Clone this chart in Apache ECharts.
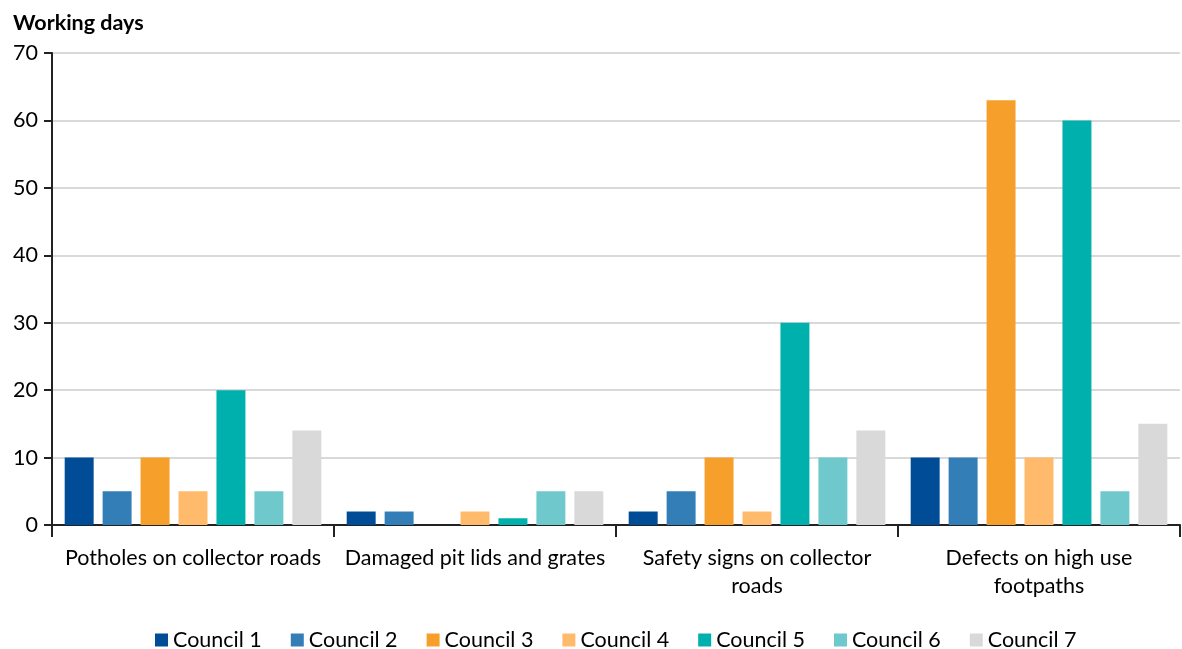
<!DOCTYPE html>
<html>
<head>
<meta charset="utf-8">
<script src="https://cdn.jsdelivr.net/npm/echarts@6/dist/echarts.min.js"></script>
<style>
  html, body { margin: 0; padding: 0; background: #fff; }
  #chart { width: 1182px; height: 649px; }
</style>
</head>
<body>
<div id="chart"></div>
<script>
// Median working days to repair, by defect type and council
const categories = [
  'Potholes on collector roads',
  'Damaged pit lids and grates',
  'Safety signs on collector\nroads',
  'Defects on high use\nfootpaths'
];
const seriesNames = ['Council 1', 'Council 2', 'Council 3', 'Council 4', 'Council 5', 'Council 6', 'Council 7'];
const council1 = [10, 2, 2, 10];
const council2 = [5, 2, 5, 10];
const council3 = [10, 0, 10, 63];
const council4 = [5, 2, 2, 10];
const council5 = [20, 1, 30, 60];
const council6 = [5, 5, 10, 5];
const council7 = [14, 5, 14, 15];
const seriesValues = [council1, council2, council3, council4, council5, council6, council7];
const colors = ['#004C97', '#347EB7', '#F79F2B', '#FFBA6B', '#00B0AC', '#6FC9CC', '#D9D9D9'];

const FONT = 'Lato, "Open Sans", "Liberation Sans", sans-serif';

const chart = echarts.init(document.getElementById('chart'), null, { renderer: 'canvas' });
chart.setOption({
  animation: false,
  textStyle: { fontFamily: FONT },
  title: {
    text: 'Working days',
    left: 8, top: 7,
    textStyle: { fontFamily: FONT, fontSize: 21.5, fontWeight: 'bold', color: '#000' }
  },
  legend: {
    top: 624,
    left: 150,
    itemWidth: 13, itemHeight: 13,
    itemGap: 29,
    icon: 'rect',
    textStyle: { fontFamily: FONT, fontSize: 21.5, color: '#000' },
    data: seriesNames
  },
  grid: { left: 52, right: 2, top: 53, bottom: 124, containLabel: false },
  xAxis: {
    type: 'category',
    data: categories,
    axisLine: { lineStyle: { color: '#222', width: 2 } },
    axisTick: { show: true, length: 12, lineStyle: { color: '#222', width: 2 } },
    axisLabel: { fontFamily: FONT, fontSize: 21.5, color: '#000', margin: 19, lineHeight: 28, interval: 0 }
  },
  yAxis: {
    type: 'value',
    min: 0, max: 70, interval: 10,
    axisLine: { show: true, lineStyle: { color: '#222', width: 2 } },
    axisTick: { show: true, length: 8, lineStyle: { color: '#222', width: 2 } },
    axisLabel: { fontFamily: FONT, fontSize: 21.5, color: '#000', margin: 14 },
    splitLine: { lineStyle: { color: '#D9D9D9', width: 2 } }
  },
  series: seriesNames.map((name, i) => ({
    name: name,
    type: 'bar',
    data: seriesValues[i],
    barGap: '31%',
    barCategoryGap: '9%',
    itemStyle: { color: colors[i] }
  }))
});
</script>
</body>
</html>
